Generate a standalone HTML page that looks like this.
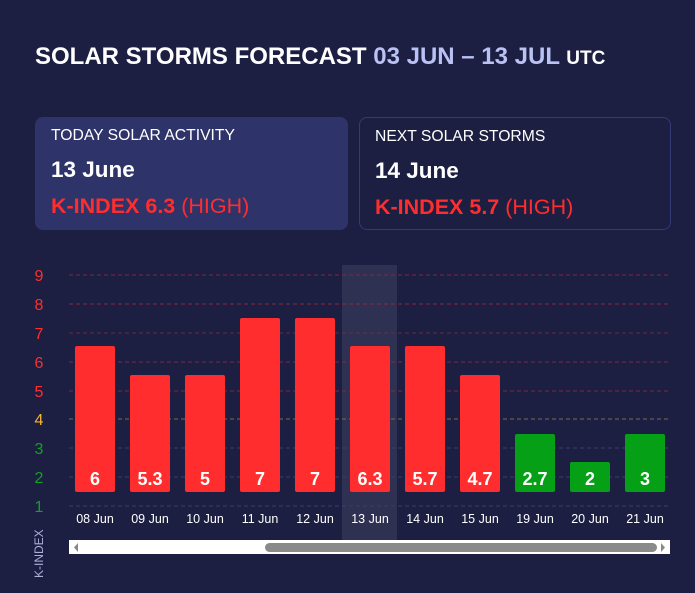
<!DOCTYPE html>
<html><head><meta charset="utf-8"><style>
*{margin:0;padding:0;box-sizing:border-box}
body{width:695px;height:593px;background:#1c1f42;font-family:"Liberation Sans",sans-serif;color:#fff;position:relative;overflow:hidden}
.a{position:absolute;white-space:nowrap}
.card{position:absolute;top:117px;height:113px;border-radius:8px}
.c1{left:35px;width:313px;background:#2e3369}
.c2{left:359px;width:312px;border:1px solid #343a72}
.t1{font-size:15.7px;left:16px;top:10px}
.t2{font-size:22.5px;font-weight:bold;left:16px;top:40px}
.t3{font-size:21.5px;left:16px;top:77px;color:#ff2d2d}
</style></head><body>
<div class="a" style="left:35px;top:43px;font-size:24px;font-weight:bold">SOLAR STORMS FORECAST <span style="color:#b9c2f2">03 JUN – 13 JUL</span> <span style="font-size:19px">UTC</span></div>
<div class="card c1"><div class="a t1">TODAY SOLAR ACTIVITY</div><div class="a t2">13 June</div><div class="a t3"><b>K-INDEX 6.3</b> (HIGH)</div></div>
<div class="card c2"><div class="a t1" style="left:15px">NEXT SOLAR STORMS</div><div class="a t2" style="left:15px">14 June</div><div class="a t3" style="left:15px"><b>K-INDEX 5.7</b> (HIGH)</div></div>
<svg class="a" style="left:0;top:0" width="695" height="593" font-family="Liberation Sans, sans-serif">
<rect x="342" y="265" width="55" height="275" fill="#2e3152"/>
<g stroke-dasharray="4,3" stroke-width="1">
<line x1="69" x2="670" y1="275" y2="275" stroke="#7a2a45"/>
<line x1="69" x2="670" y1="304" y2="304" stroke="#8a2a40"/>
<line x1="69" x2="670" y1="333" y2="333" stroke="#6a2a48"/>
<line x1="69" x2="670" y1="362" y2="362" stroke="#7a2a45"/>
<line x1="69" x2="670" y1="391" y2="391" stroke="#7a2a45"/>
<line x1="69" x2="670" y1="419" y2="419" stroke="#7a6a50"/>
<line x1="69" x2="670" y1="448" y2="448" stroke="#3a3f6e"/>
<line x1="69" x2="670" y1="477" y2="477" stroke="#3a3f6e"/>
<line x1="69" x2="670" y1="506" y2="506" stroke="#3a3f6e"/>
</g>
<g font-size="16" text-anchor="middle">
<text x="39" y="281" fill="#ff2d2d">9</text><text x="39" y="310" fill="#ff2d2d">8</text><text x="39" y="339" fill="#ff2d2d">7</text><text x="39" y="368" fill="#ff2d2d">6</text><text x="39" y="397" fill="#ff2d2d">5</text><text x="39" y="425" fill="#f5b82e">4</text><text x="39" y="454" fill="#14a024">3</text><text x="39" y="483" fill="#14a024">2</text><text x="39" y="512" fill="#14a024">1</text>
</g>
<g>
<rect x="75" y="346" width="40" height="146" rx="2" fill="#ff2d2d"/>
<rect x="130" y="375" width="40" height="117" rx="2" fill="#ff2d2d"/>
<rect x="185" y="375" width="40" height="117" rx="2" fill="#ff2d2d"/>
<rect x="240" y="318" width="40" height="174" rx="2" fill="#ff2d2d"/>
<rect x="295" y="318" width="40" height="174" rx="2" fill="#ff2d2d"/>
<rect x="350" y="346" width="40" height="146" rx="2" fill="#ff2d2d"/>
<rect x="405" y="346" width="40" height="146" rx="2" fill="#ff2d2d"/>
<rect x="460" y="375" width="40" height="117" rx="2" fill="#ff2d2d"/>
<rect x="515" y="434" width="40" height="58" rx="2" fill="#05a015"/>
<rect x="570" y="462" width="40" height="30" rx="2" fill="#05a015"/>
<rect x="625" y="434" width="40" height="58" rx="2" fill="#05a015"/>
</g>
<g font-size="18" font-weight="bold" fill="#fff" text-anchor="middle">
<text x="95" y="485">6</text><text x="150" y="485">5.3</text><text x="205" y="485">5</text><text x="260" y="485">7</text><text x="315" y="485">7</text><text x="370" y="485">6.3</text><text x="425" y="485">5.7</text><text x="480" y="485">4.7</text><text x="535" y="485">2.7</text><text x="590" y="485">2</text><text x="645" y="485">3</text>
</g>
<g font-size="12.5" fill="#fff" text-anchor="middle">
<text x="95" y="523">08 Jun</text><text x="150" y="523">09 Jun</text><text x="205" y="523">10 Jun</text><text x="260" y="523">11 Jun</text><text x="315" y="523">12 Jun</text><text x="370" y="523">13 Jun</text><text x="425" y="523">14 Jun</text><text x="480" y="523">15 Jun</text><text x="535" y="523">19 Jun</text><text x="590" y="523">20 Jun</text><text x="645" y="523">21 Jun</text>
</g>
<rect x="69" y="540" width="601" height="14" fill="#fff"/>
<rect x="265" y="543" width="392" height="9" rx="4.5" fill="#8a8a8a"/>
<path d="M78 543 L74 547.5 L78 552Z" fill="#888"/>
<path d="M661 543 L665 547.5 L661 552Z" fill="#888"/>
<text transform="translate(43,578) rotate(-90)" font-size="12" fill="#aab0d8">K-INDEX</text>
</svg>
</body></html>
